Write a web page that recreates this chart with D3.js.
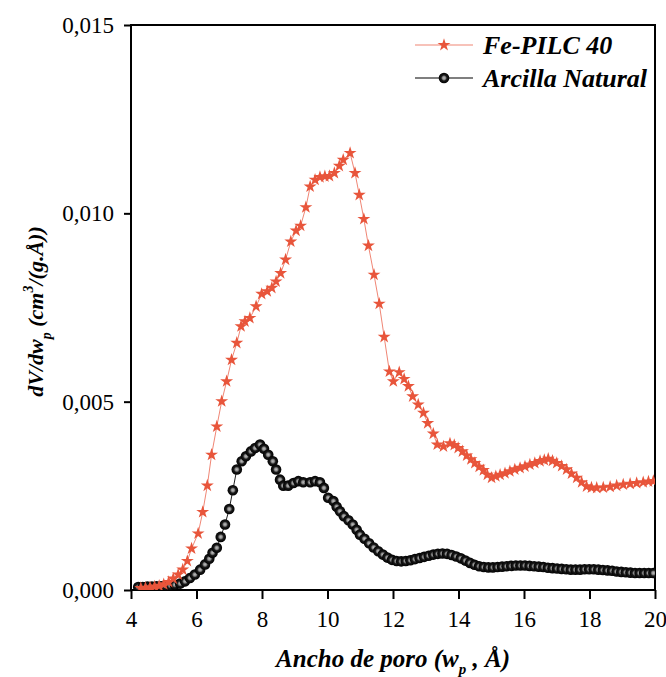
<!DOCTYPE html>
<html>
<head>
<meta charset="utf-8">
<script src="https://cdn.jsdelivr.net/npm/d3@7"></script>
<style>
  body { margin: 0; background: #fff; }
  text { font-family: "Liberation Serif", "Times New Roman", serif; }
</style>
</head>
<body>
<svg id="chart" width="666" height="677"></svg>
<script>
// pore width (A) and dV/dw for Fe-PILC 40
var feX = [4.30, 4.44, 4.58, 4.72, 4.86, 5.00, 5.15, 5.29, 5.44, 5.58, 5.72, 5.85, 6.05, 6.19, 6.33, 6.46,
  6.62, 6.77, 6.92, 7.07, 7.23, 7.36, 7.48, 7.63, 7.82, 7.99, 8.16, 8.30, 8.43, 8.57, 8.72, 8.88, 9.04,
  9.18, 9.34, 9.47, 9.62, 9.77, 9.92, 10.06, 10.21, 10.36, 10.48, 10.69, 10.84, 10.97, 11.11, 11.25,
  11.42, 11.58, 11.73, 11.89, 12.01, 12.19, 12.34, 12.47, 12.60, 12.77, 12.93, 13.06, 13.23, 13.35,
  13.54, 13.74, 13.87, 13.99, 14.12, 14.25, 14.38, 14.50, 14.63, 14.76, 14.88, 15.01, 15.14, 15.27,
  15.42, 15.57, 15.72, 15.88, 16.03, 16.18, 16.33, 16.49, 16.62, 16.74, 16.87, 17.00, 17.15, 17.30,
  17.45, 17.61, 17.76, 17.91, 18.06, 18.22, 18.42, 18.63, 18.83, 19.03, 19.24, 19.44, 19.64, 19.80, 19.95];
var feY = [0.00005, 0.00006, 0.00007, 0.00009, 0.00011, 0.00015, 0.00021, 0.00030, 0.00041, 0.00054,
  0.00077, 0.00110, 0.00150, 0.00207, 0.00277, 0.00359, 0.00434, 0.00501, 0.00554, 0.00611, 0.00656,
  0.00700, 0.00713, 0.00722, 0.00753, 0.00786, 0.00793, 0.00802, 0.00819, 0.00841, 0.00877, 0.00925,
  0.00954, 0.00967, 0.01016, 0.01071, 0.01089, 0.01096, 0.01098, 0.01099, 0.01107, 0.01126, 0.01142,
  0.01160, 0.01107, 0.01049, 0.00985, 0.00914, 0.00837, 0.00760, 0.00672, 0.00580, 0.00554, 0.00578,
  0.00560, 0.00541, 0.00514, 0.00492, 0.00470, 0.00443, 0.00415, 0.00386, 0.00381, 0.00389, 0.00385,
  0.00377, 0.00368, 0.00357, 0.00347, 0.00337, 0.00327, 0.00318, 0.00306, 0.00298, 0.00302, 0.00306,
  0.00310, 0.00315, 0.00320, 0.00324, 0.00328, 0.00333, 0.00337, 0.00342, 0.00345, 0.00348, 0.00343,
  0.00337, 0.00329, 0.00320, 0.00309, 0.00298, 0.00286, 0.00275, 0.00272, 0.00271, 0.00272, 0.00274,
  0.00277, 0.00280, 0.00282, 0.00284, 0.00286, 0.00288, 0.00289];

// pore width (A) and dV/dw for Arcilla Natural
var arX = [4.22, 4.36, 4.50, 4.64, 4.78, 4.92, 5.06, 5.20, 5.34, 5.50, 5.65, 5.80, 5.95, 6.11, 6.26, 6.39,
  6.49, 6.62, 6.74, 6.87, 7.00, 7.11, 7.23, 7.38, 7.51, 7.66, 7.79, 7.94, 8.06, 8.19, 8.33, 8.43, 8.55,
  8.65, 8.80, 8.96, 9.11, 9.26, 9.47, 9.62, 9.77, 9.89, 10.02, 10.18, 10.28, 10.38, 10.50, 10.64, 10.77,
  10.89, 10.99, 11.13, 11.27, 11.41, 11.55, 11.69, 11.83, 11.97, 12.11, 12.25, 12.39, 12.53, 12.67,
  12.81, 12.95, 13.09, 13.23, 13.37, 13.51, 13.65, 13.79, 13.93, 14.07, 14.21, 14.35, 14.49, 14.63,
  14.77, 14.91, 15.05, 15.19, 15.33, 15.47, 15.61, 15.75, 15.89, 16.03, 16.17, 16.31, 16.45, 16.59,
  16.73, 16.87, 17.01, 17.15, 17.29, 17.43, 17.57, 17.71, 17.85, 17.99, 18.13, 18.27, 18.41, 18.55,
  18.69, 18.83, 18.97, 19.11, 19.25, 19.39, 19.53, 19.67, 19.81, 19.95];
var arY = [0.00008, 0.00008, 0.00009, 0.00009, 0.00010, 0.00010, 0.00011, 0.00012, 0.00014, 0.00017,
  0.00023, 0.00032, 0.00041, 0.00054, 0.00068, 0.00083, 0.00099, 0.00112, 0.00141, 0.00174, 0.00215,
  0.00265, 0.00320, 0.00342, 0.00355, 0.00368, 0.00377, 0.00386, 0.00375, 0.00359, 0.00342, 0.00320,
  0.00293, 0.00277, 0.00277, 0.00284, 0.00289, 0.00286, 0.00286, 0.00289, 0.00286, 0.00271, 0.00245,
  0.00236, 0.00221, 0.00209, 0.00196, 0.00185, 0.00174, 0.00160, 0.00147, 0.00136, 0.00124, 0.00113,
  0.00103, 0.00094, 0.00086, 0.00080, 0.00077, 0.00076, 0.00077, 0.00079, 0.00082, 0.00085, 0.00088,
  0.00091, 0.00094, 0.00096, 0.00097, 0.00096, 0.00093, 0.00089, 0.00084, 0.00078, 0.00072, 0.00067,
  0.00063, 0.00061, 0.00060, 0.00060, 0.00061, 0.00062, 0.00063, 0.00064, 0.00065, 0.00065, 0.00065,
  0.00064, 0.00063, 0.00062, 0.00061, 0.00059, 0.00058, 0.00057, 0.00056, 0.00055, 0.00054, 0.00054,
  0.00054, 0.00055, 0.00055, 0.00055, 0.00054, 0.00053, 0.00052, 0.00051, 0.00049, 0.00048, 0.00047,
  0.00046, 0.00045, 0.00045, 0.00045, 0.00045, 0.00045, 0.00045];

var xTicks = [4, 6, 8, 10, 12, 14, 16, 18, 20];
var yTicks = [0, 0.005, 0.010, 0.015];
var seriesNames = ["Fe-PILC 40", "Arcilla Natural"];

var margin = { top: 25, right: 11, bottom: 87, left: 131 };
var width = 666, height = 677;
var innerW = width - margin.left - margin.right;
var innerH = height - margin.top - margin.bottom;

var red = "#e8553b";
var redLine = "#f08675";

var svg = d3.select("#chart");

var defs = svg.append("defs");
var grad = defs.append("radialGradient")
  .attr("id", "ball")
  .attr("cx", "50%").attr("cy", "50%").attr("r", "50%");
grad.append("stop").attr("offset", "0%").attr("stop-color", "#c0c0c0");
grad.append("stop").attr("offset", "30%").attr("stop-color", "#8a8a8a");
grad.append("stop").attr("offset", "55%").attr("stop-color", "#1a1a1a");
grad.append("stop").attr("offset", "100%").attr("stop-color", "#000");

var g = svg.append("g")
  .attr("transform", `translate(${margin.left},${margin.top})`);

var x = d3.scaleLinear().domain([4, 20]).range([0, innerW]);
var y = d3.scaleLinear().domain([0, 0.015]).range([innerH, 0]);

var comma = d3.formatLocale({ decimal: ",", thousands: ".", grouping: [3], currency: ["", ""] });

// axes
var xAxis = g.append("g")
  .attr("transform", `translate(0,${innerH})`)
  .call(d3.axisBottom(x).tickValues(xTicks).tickSize(9).tickPadding(12).tickFormat(d3.format("d")));
var yAxis = g.append("g")
  .call(d3.axisLeft(y).tickValues(yTicks).tickSize(7).tickPadding(10).tickFormat(comma.format(".3f")));

[xAxis, yAxis].forEach(function (a) {
  a.select(".domain").remove();
  a.selectAll(".tick line").attr("stroke", "#000").attr("stroke-width", 2);
  a.selectAll(".tick text").attr("fill", "#000").style("font-size", "23px");
});

// frame
g.append("rect")
  .attr("width", innerW).attr("height", innerH)
  .attr("fill", "none").attr("stroke", "#000").attr("stroke-width", 2);

var clip = defs.append("clipPath").attr("id", "plotClip");
clip.append("rect").attr("x", -8).attr("y", -8).attr("width", innerW + 8).attr("height", innerH + 8);

var plot = g.append("g").attr("clip-path", "url(#plotClip)");

var arPts = arX.map((v, i) => [v, arY[i]]);
var fePts = feX.map((v, i) => [v, feY[i]]);

var line = d3.line().x(d => x(d[0])).y(d => y(d[1]));

// Arcilla Natural
plot.append("path")
  .datum(arPts)
  .attr("d", line)
  .attr("fill", "none").attr("stroke", "#222").attr("stroke-width", 1);
plot.selectAll("circle.ar")
  .data(arPts)
  .enter().append("circle")
  .attr("class", "ar")
  .attr("cx", d => x(d[0])).attr("cy", d => y(d[1]))
  .attr("r", 5.3)
  .attr("fill", "url(#ball)");

// Fe-PILC 40
var star = d3.symbol().type(d3.symbolStar).size(52);
plot.append("path")
  .datum(fePts)
  .attr("d", line)
  .attr("fill", "none").attr("stroke", redLine).attr("stroke-width", 1);
plot.selectAll("path.fe")
  .data(fePts)
  .enter().append("path")
  .attr("class", "fe")
  .attr("d", star)
  .attr("transform", d => `translate(${x(d[0])},${y(d[1])})`)
  .attr("fill", red);

// legend
var legend = svg.append("g").attr("transform", "translate(415,45)");
legend.append("line").attr("x1", 0).attr("x2", 58).attr("y1", 0).attr("y2", 0)
  .attr("stroke", redLine).attr("stroke-width", 1.2);
legend.append("path").attr("d", star).attr("transform", "translate(29,0)").attr("fill", red);
legend.append("text").attr("x", 68).attr("y", 9).text(seriesNames[0])
  .style("font-size", "26px").style("font-weight", "bold").style("font-style", "italic");

legend.append("line").attr("x1", 0).attr("x2", 58).attr("y1", 33).attr("y2", 33)
  .attr("stroke", "#000").attr("stroke-width", 1.2);
legend.append("circle").attr("cx", 29).attr("cy", 33).attr("r", 5.3).attr("fill", "url(#ball)");
legend.append("text").attr("x", 68).attr("y", 42).text(seriesNames[1])
  .style("font-size", "26px").style("font-weight", "bold").style("font-style", "italic");

// axis titles
var xt = svg.append("text")
  .attr("x", margin.left + innerW / 2).attr("y", 667)
  .attr("text-anchor", "middle")
  .style("font-size", "25px").style("font-weight", "bold").style("font-style", "italic");
xt.append("tspan").text("Ancho de poro (w");
xt.append("tspan").attr("dy", 7).style("font-size", "15px").text("p");
xt.append("tspan").attr("dy", -7).text(" , Å)");

var yt = svg.append("text")
  .attr("transform", `translate(43,${margin.top + innerH / 2 + 4}) rotate(-90)`)
  .attr("text-anchor", "middle")
  .style("font-size", "22px").style("font-weight", "bold").style("font-style", "italic");
yt.append("tspan").text("dV/dw");
yt.append("tspan").attr("dy", 8).style("font-size", "14px").text("p");
yt.append("tspan").attr("dy", -8).text(" (cm");
yt.append("tspan").attr("dy", -10).style("font-size", "14px").text("3");
yt.append("tspan").attr("dy", 10).text("/(g.Å))");
</script>
</body>
</html>
